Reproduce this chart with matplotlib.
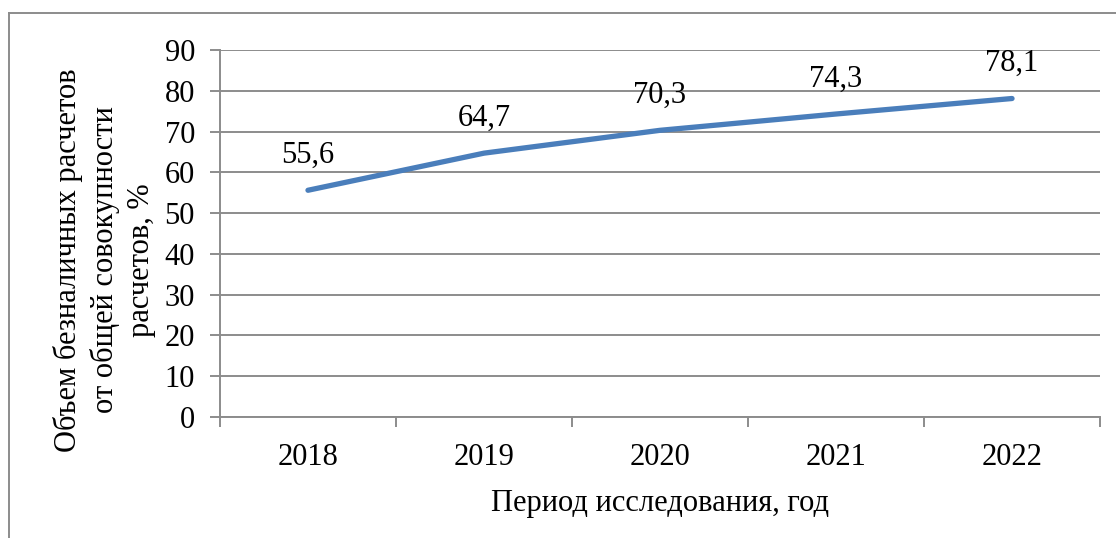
import matplotlib.pyplot as plt
from matplotlib.lines import Line2D

plt.rcParams['font.family'] = ['Liberation Serif', 'DejaVu Serif']

# данные
years = ['2018', '2019', '2020', '2021', '2022']
values = [55.6, 64.7, 70.3, 74.3, 78.1]
labels = ['55,6', '64,7', '70,3', '74,3', '78,1']

fig = plt.figure(figsize=(11.16, 5.38), dpi=100)
ax = fig.add_axes([0.1971, 0.2249, 0.7886, 0.6822])

grid_c = '#8c8c8c'
x = list(range(len(years)))
ax.plot(x, values, color='#4a7ebb', linewidth=3.8, solid_capstyle='round', zorder=3)
for xi, v, lab in zip(x, values, labels):
    ax.annotate(lab, (xi, v), xytext=(0, 25), textcoords='offset points',
                ha='center', va='center', fontsize=22)

ax.set_xlim(-0.5, 4.5)
ax.set_ylim(0, 90)
ax.set_yticks(range(0, 91, 10))
ax.yaxis.grid(True, color=grid_c, linewidth=1.4)
ax.set_axisbelow(True)
ax.set_xticks(x)
ax.set_xticklabels(years)
ax.set_xticks([i - 0.5 for i in range(len(years) + 1)], minor=True)
ax.tick_params(axis='x', which='major', length=0, pad=19, labelsize=22)
ax.tick_params(axis='x', which='minor', length=7, width=1.4, color=grid_c)
ax.tick_params(axis='y', length=7, width=1.4, color=grid_c, labelsize=22, pad=11)
for s in ['top', 'right']:
    ax.spines[s].set_visible(False)
for s in ['left', 'bottom']:
    ax.spines[s].set_color(grid_c)
    ax.spines[s].set_linewidth(1.4)

ax.set_xlabel('Период исследования, год', fontsize=22, labelpad=12)
ax.set_ylabel('Объем безналичных расчетов\nот общей совокупности\nрасчетов, %',
              fontsize=22, linespacing=1.3, va='center')
ax.yaxis.set_label_coords(-0.131, 0.428)

# рамка
fig.add_artist(Line2D([0.008, 1.0], [0.976, 0.976], color=grid_c, linewidth=1.4))
fig.add_artist(Line2D([0.008, 0.008], [0.0, 0.976], color=grid_c, linewidth=1.4))

fig.savefig('out.png', dpi=100)
